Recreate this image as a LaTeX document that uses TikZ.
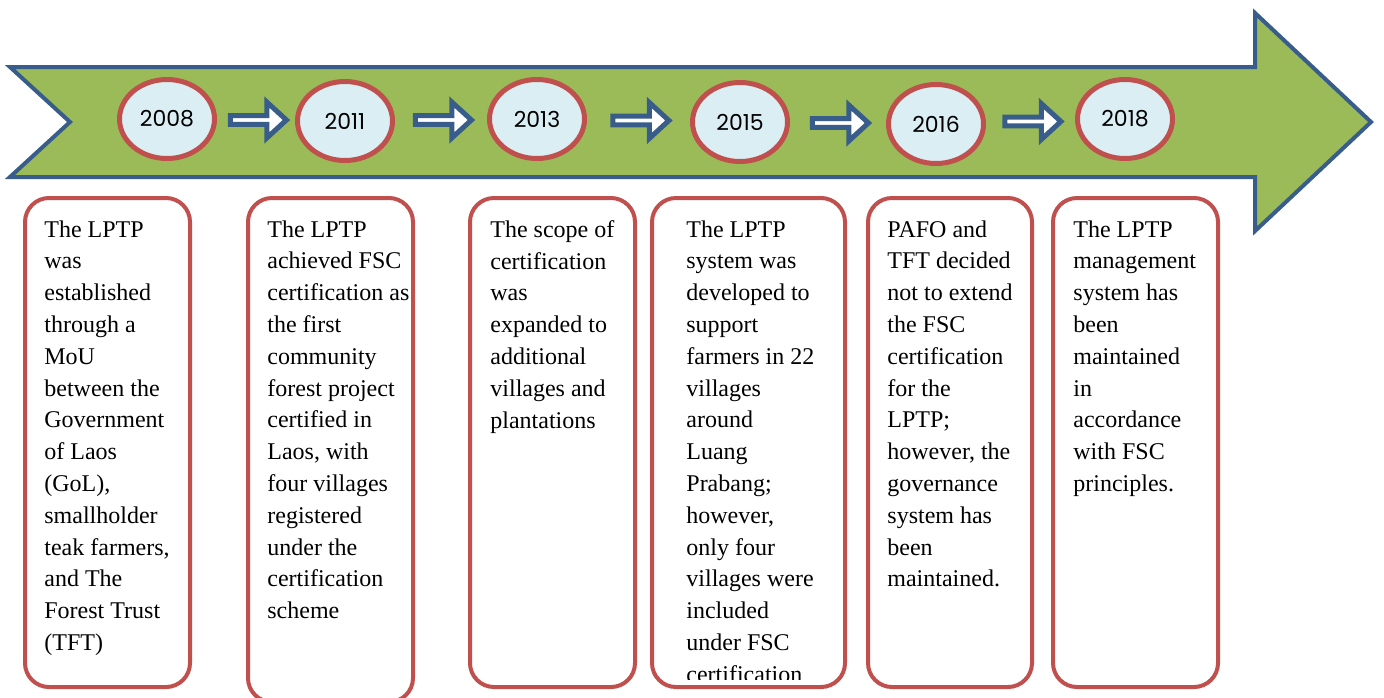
\documentclass[tikz,border=0pt]{standalone}
\usepackage{fontspec}
\setmainfont{Liberation Serif}
\newfontfamily\yearfont{Poppins}
\usetikzlibrary{shapes.geometric,shapes.arrows,calc}
\definecolor{bandgreen}{HTML}{9BBB59}
\definecolor{bandblue}{HTML}{385D8A}
\definecolor{yearfill}{HTML}{DAEEF3}
\definecolor{yearred}{HTML}{C0504D}
\begin{document}
\begin{tikzpicture}[x=0.5pt, y=-0.5pt,
  band/.style={draw=bandblue, fill=bandgreen, line width=2pt, line join=miter},
  year/.style={ellipse, draw=yearred, fill=yearfill, line width=2.5pt, minimum width=47.5pt, minimum height=39.5pt, inner sep=0pt, font=\yearfont\fontsize{11}{12}\selectfont},
  nextarrow/.style={single arrow, draw=bandblue, fill=white, line width=2.5pt, minimum height=28pt, minimum width=18pt, single arrow head extend=3.8pt, single arrow tip angle=85, inner sep=0pt},
  event/.style={draw=yearred, line width=2pt, rounded corners=12pt, minimum width=82.5pt, minimum height=244.5pt},
  note/.style={anchor=north west, inner sep=0pt, align=left, font=\fontsize{12}{15.9}\selectfont}
]
\useasboundingbox (0,0) rectangle (1384,697);

% timeline band
\draw[band] (10,67) -- (1255,67) -- (1255,13) -- (1371,122) -- (1255,231) -- (1255,177) -- (10,177) -- (70,122) -- cycle;

\node[year] (y2008) at (167,119) {2008};
\node[year] (y2011) at (345,121) {2011};
\node[year] (y2013) at (537,119) {2013};
\node[year] (y2015) at (740,122) {2015};
\node[year] (y2016) at (936,124) {2016};
\node[year] (y2018) at (1125,119) {2018};

\node[nextarrow] (a1) at ($(y2008)!0.5!(y2011)$) {};
\node[nextarrow] (a2) at ($(y2011)!0.5!(y2013)$) {};
\node[nextarrow] (a3) at ($(y2013)!0.5!(y2015)$) {};
\node[nextarrow] (a4) at ($(y2015)!0.5!(y2016)$) {};
\node[nextarrow] (a5) at ($(y2016)!0.5!(y2018)$) {};

% event boxes
\node[event] (b1) at (107.5,442.5) {};
\node[event, minimum height=252pt] (b2) at (330.5,450) {};
\node[event] (b3) at (552.5,442.5) {};
\node[event, minimum width=96.5pt] (b4) at (748.5,442.5) {};
\node[event, minimum width=82pt] (b5) at (950,442.5) {};
\node[event] (b6) at (1135.5,442.5) {};

\node[note] (t1) at (44,220) {The LPTP\\was\\established\\through a\\MoU\\between the\\Government\\of Laos\\(GoL),\\smallholder\\teak farmers,\\and The\\Forest Trust\\(TFT)};
\node[note] (t2) at (267,220) {The LPTP\\achieved FSC\\certification as\\the first\\community\\forest project\\certified in\\Laos, with\\four villages\\registered\\under the\\certification\\scheme};
\node[note] (t3) at (490,220) {The scope of\\certification\\was\\expanded to\\additional\\villages and\\plantations};
\begin{scope}
  \clip (652,198) rectangle (845,679);
  \node[note] (t4) at (686,220) {The LPTP\\system was\\developed to\\support\\farmers in 22\\villages\\around\\Luang\\Prabang;\\however,\\only four\\villages were\\included\\under FSC\\certification};
\end{scope}
\node[note] (t5) at (887,220) {PAFO and\\TFT decided\\not to extend\\the FSC\\certification\\for the\\LPTP;\\however, the\\governance\\system has\\been\\maintained.};
\node[note] (t6) at (1073,220) {The LPTP\\management\\system has\\been\\maintained\\in\\accordance\\with FSC\\principles.};
\end{tikzpicture}
\end{document}
